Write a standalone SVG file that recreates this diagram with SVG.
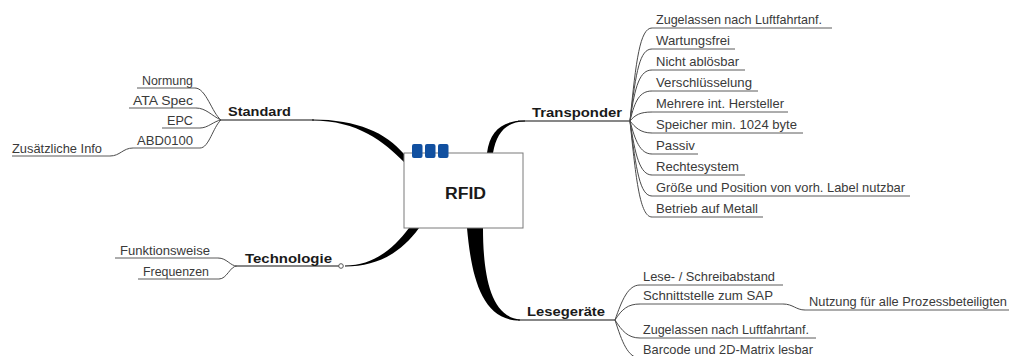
<svg xmlns="http://www.w3.org/2000/svg" width="1013" height="356" viewBox="0 0 1013 356">
<style>
.lbl{font-family:"Liberation Sans",Arial,sans-serif;font-size:13.5px;font-weight:bold;fill:#1a1a1a}
.sub{font-family:"Liberation Sans",Arial,sans-serif;font-size:13px;fill:#3a3a3a}
.ul{stroke:#5a5a5a;stroke-width:1;fill:none}
.cl{stroke:#4a4a4a;stroke-width:1;fill:none}
.mainline{stroke:#111;stroke-width:1.2;fill:none}
.wedge{fill:#000}
.tag{fill:#1150a0}
</style>
<rect width="1013" height="356" fill="#fff"/>

<g id="connectors">
  <!-- main branches -->
  <path class="wedge" d="M312,119.5 C358,119.5 386,133 404,154 L404,162 C384,142 358,120.5 312,120.5 Z"/>
  <path class="wedge" d="M345,265.5 C374,265.5 394,248 409,228 L419,228 C401,253 377,266.5 345,266.5 Z"/>
  <path class="wedge" d="M467,228 C471,272 480,320.6 520,320.6 L520,319.4 C489,317 483,270 483,228 Z"/>
  <path class="wedge" d="M487,153 C490,130 503,120.5 525,120.5 L525,121.5 C507,121.5 496.5,132 493,153 Z"/>
  <line class="mainline" x1="221" y1="120" x2="314" y2="120"/>
  <line class="mainline" x1="237" y1="266" x2="339" y2="266"/>
  <circle cx="341" cy="266" r="2.3" fill="#fff" stroke="#555" stroke-width="1"/>
  <line class="mainline" x1="518" y1="121" x2="630" y2="121"/>
  <line class="mainline" x1="518" y1="320" x2="615" y2="320"/>

  <!-- Standard children -->
  <path class="cl" d="M195,88 C206,88 212,113 221,120"/>
  <path class="cl" d="M196,108 C206,108 212,116 221,120"/>
  <path class="cl" d="M200,128 C208,128 214,121 221,120"/>
  <path class="cl" d="M200,148 C209,148 213,127 221,120"/>
  <path class="cl" d="M110,156 C120,156 123,148 133,148"/>
  <line class="ul" x1="137" y1="88" x2="195" y2="88"/>
  <line class="ul" x1="129" y1="108" x2="196" y2="108"/>
  <line class="ul" x1="162" y1="128" x2="200" y2="128"/>
  <line class="ul" x1="133" y1="148" x2="200" y2="148"/>
  <line class="ul" x1="12" y1="156" x2="110" y2="156"/>

  <!-- Technologie children -->
  <path class="cl" d="M218,258 C227,258 230,266 237,266"/>
  <path class="cl" d="M219,279 C227,279 230,266 237,266"/>
  <line class="ul" x1="115" y1="258" x2="218" y2="258"/>
  <line class="ul" x1="138" y1="279" x2="219" y2="279"/>

  <!-- Transponder children -->
  <path class="cl" d="M630,121 C636,60 640,28 652,28"/>
  <path class="cl" d="M630,121 C636,70 640,49 652,49"/>
  <path class="cl" d="M630,121 C635,85 640,70 652,70"/>
  <path class="cl" d="M630,121 C635,100 640,91 652,91"/>
  <path class="cl" d="M630,121 C635,115 640,112 652,112"/>
  <path class="cl" d="M630,121 C635,127 640,133 652,133"/>
  <path class="cl" d="M630,121 C635,140 640,154 652,154"/>
  <path class="cl" d="M630,121 C635,155 640,175 652,175"/>
  <path class="cl" d="M630,121 C636,170 640,196 652,196"/>
  <path class="cl" d="M630,121 C636,180 640,217 652,217"/>
  <line class="ul" x1="652" y1="28" x2="832" y2="28"/>
  <line class="ul" x1="652" y1="49" x2="735" y2="49"/>
  <line class="ul" x1="652" y1="70" x2="745" y2="70"/>
  <line class="ul" x1="652" y1="91" x2="758" y2="91"/>
  <line class="ul" x1="652" y1="112" x2="788" y2="112"/>
  <line class="ul" x1="652" y1="133" x2="803" y2="133"/>
  <line class="ul" x1="652" y1="154" x2="698" y2="154"/>
  <line class="ul" x1="652" y1="175" x2="745" y2="175"/>
  <line class="ul" x1="652" y1="196" x2="910" y2="196"/>
  <line class="ul" x1="652" y1="217" x2="763" y2="217"/>

  <!-- Lesegeräte children -->
  <path class="cl" d="M615,320 C622,300 628,285 640,285"/>
  <path class="cl" d="M615,320 C622,309 628,304 640,304"/>
  <path class="cl" d="M615,320 C622,331 628,338 640,338"/>
  <path class="cl" d="M615,320 C622,342 628,358 640,358"/>
  <path class="cl" d="M783,304 C793,304 796,310 805,310"/>
  <line class="ul" x1="640" y1="285" x2="783" y2="285"/>
  <line class="ul" x1="640" y1="304" x2="783" y2="304"/>
  <line class="ul" x1="805" y1="310" x2="1009" y2="310"/>
  <line class="ul" x1="640" y1="338" x2="816" y2="338"/>
  <line class="ul" x1="640" y1="358" x2="818" y2="358"/>
</g>

<g id="node-rfid">
  <rect x="404" y="153" width="119" height="75" fill="#fff" stroke="#7a7a7a" stroke-width="1"/>
  <rect class="tag" x="412" y="144" width="10.5" height="14" rx="2"/>
  <rect class="tag" x="425" y="144" width="10.5" height="14" rx="2"/>
  <rect class="tag" x="438" y="144" width="10.5" height="14" rx="2"/>
  <text class="lbl" x="445" y="199" style="font-size:16px" textLength="41" lengthAdjust="spacingAndGlyphs">RFID</text>
</g>

<g id="node-standard">
  <text class="lbl" x="228" y="116" textLength="63" lengthAdjust="spacingAndGlyphs">Standard</text>
</g>
<g id="node-normung"><text class="sub" x="142" y="85" textLength="51" lengthAdjust="spacingAndGlyphs">Normung</text></g>
<g id="node-ata"><text class="sub" x="133" y="105" textLength="60" lengthAdjust="spacingAndGlyphs">ATA Spec</text></g>
<g id="node-epc"><text class="sub" x="167" y="125" textLength="26" lengthAdjust="spacingAndGlyphs">EPC</text></g>
<g id="node-abd"><text class="sub" x="137" y="145" textLength="56" lengthAdjust="spacingAndGlyphs">ABD0100</text></g>
<g id="node-zusatz"><text class="sub" x="12" y="153" textLength="90" lengthAdjust="spacingAndGlyphs">Zusätzliche Info</text></g>

<g id="node-technologie">
  <text class="lbl" x="245" y="263" textLength="87" lengthAdjust="spacingAndGlyphs">Technologie</text>
</g>
<g id="node-funktion"><text class="sub" x="120" y="255" textLength="90" lengthAdjust="spacingAndGlyphs">Funktionsweise</text></g>
<g id="node-frequenz"><text class="sub" x="143" y="276" textLength="66" lengthAdjust="spacingAndGlyphs">Frequenzen</text></g>

<g id="node-transponder">
  <text class="lbl" x="532" y="117" textLength="90" lengthAdjust="spacingAndGlyphs">Transponder</text>
</g>
<g id="node-t1"><text class="sub" x="656" y="24" textLength="166" lengthAdjust="spacingAndGlyphs">Zugelassen nach Luftfahrtanf.</text></g>
<g id="node-t2"><text class="sub" x="656" y="45" textLength="74" lengthAdjust="spacingAndGlyphs">Wartungsfrei</text></g>
<g id="node-t3"><text class="sub" x="656" y="66" textLength="83" lengthAdjust="spacingAndGlyphs">Nicht ablösbar</text></g>
<g id="node-t4"><text class="sub" x="656" y="87" textLength="96" lengthAdjust="spacingAndGlyphs">Verschlüsselung</text></g>
<g id="node-t5"><text class="sub" x="656" y="108" textLength="128" lengthAdjust="spacingAndGlyphs">Mehrere int. Hersteller</text></g>
<g id="node-t6"><text class="sub" x="656" y="129" textLength="141" lengthAdjust="spacingAndGlyphs">Speicher min. 1024 byte</text></g>
<g id="node-t7"><text class="sub" x="656" y="150" textLength="39" lengthAdjust="spacingAndGlyphs">Passiv</text></g>
<g id="node-t8"><text class="sub" x="656" y="171" textLength="83" lengthAdjust="spacingAndGlyphs">Rechtesystem</text></g>
<g id="node-t9"><text class="sub" x="656" y="192" textLength="249" lengthAdjust="spacingAndGlyphs">Größe und Position von vorh. Label nutzbar</text></g>
<g id="node-t10"><text class="sub" x="656" y="213" textLength="102" lengthAdjust="spacingAndGlyphs">Betrieb auf Metall</text></g>

<g id="node-lesegeraete">
  <text class="lbl" x="527" y="316" textLength="78" lengthAdjust="spacingAndGlyphs">Lesegeräte</text>
</g>
<g id="node-l1"><text class="sub" x="643" y="281" textLength="132" lengthAdjust="spacingAndGlyphs">Lese- / Schreibabstand</text></g>
<g id="node-l2"><text class="sub" x="643" y="300" textLength="130" lengthAdjust="spacingAndGlyphs">Schnittstelle zum SAP</text></g>
<g id="node-l2a"><text class="sub" x="809" y="306" textLength="198" lengthAdjust="spacingAndGlyphs">Nutzung für alle Prozessbeteiligten</text></g>
<g id="node-l3"><text class="sub" x="643" y="334" textLength="166" lengthAdjust="spacingAndGlyphs">Zugelassen nach Luftfahrtanf.</text></g>
<g id="node-l4"><text class="sub" x="643" y="354" textLength="170" lengthAdjust="spacingAndGlyphs">Barcode und 2D-Matrix lesbar</text></g>
</svg>
